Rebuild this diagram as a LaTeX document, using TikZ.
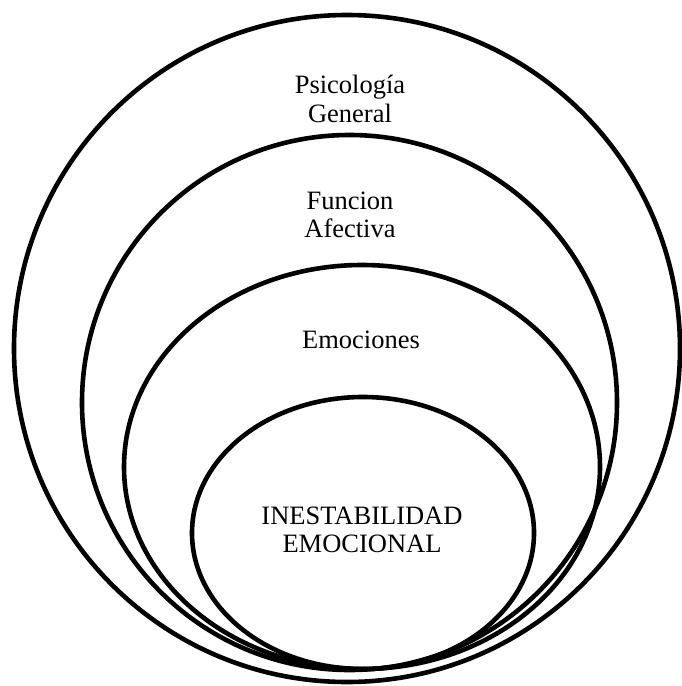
\documentclass[tikz,border=0pt]{standalone}
\usepackage{fontspec}
\setmainfont{Liberation Serif}
\begin{document}
\begin{tikzpicture}[x=1pt,y=-1pt,
  ring/.style={draw=black,line width=4.6pt},
  lbl/.style={align=center,font=\fontsize{26.5pt}{28.5pt}\selectfont,inner sep=0pt}]
\useasboundingbox (0,0) rectangle (681,686);
\draw[ring] (347,348.5) ellipse [x radius=333pt, y radius=333.5pt];
\draw[ring] (349.5,402.5) ellipse [x radius=267.5pt, y radius=267.5pt];
\draw[ring] (362,467) ellipse [x radius=238pt, y radius=202pt];
\draw[ring] (363,533) ellipse [x radius=171pt, y radius=136pt];
\node[lbl] (psi) at (350,99) {Psicología\\General};
\node[lbl] (fun) at (350,215) {Funcion\\Afectiva};
\node[lbl] (emo) at (361,340) {Emociones};
\node[lbl] (ine) at (362,530) {INESTABILIDAD\\EMOCIONAL};
\end{tikzpicture}
\end{document}
